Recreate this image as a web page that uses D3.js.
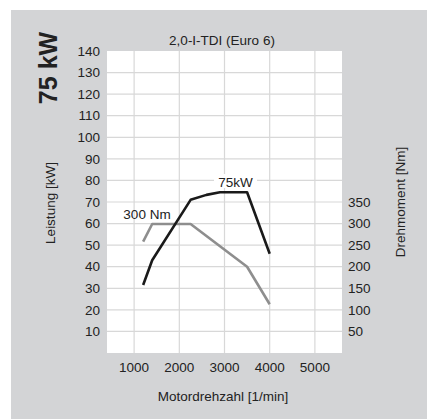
<!DOCTYPE html>
<html>
<head>
<meta charset="utf-8">
<script src="https://cdn.jsdelivr.net/npm/d3@7"></script>
<style>
  html, body { margin: 0; padding: 0; background: #fff; }
  text { font-family: "Liberation Sans", Arial, sans-serif; fill: #222; }
</style>
</head>
<body>
<svg id="chart" width="427" height="419"></svg>
<script>
const powerRpm = [1200, 1400, 2250, 2600, 2900, 3500, 4000];
const powerKw = [31.5, 43, 71, 73.3, 74.5, 74.5, 46];
const torqueRpm = [1200, 1400, 2250, 3500, 4000];
const torqueNm = [258, 299, 299, 200, 113];
const leftTicks = [10, 20, 30, 40, 50, 60, 70, 80, 90, 100, 110, 120, 130, 140];
const rightTicks = [50, 100, 150, 200, 250, 300, 350];
const rpmTicks = [1000, 2000, 3000, 4000, 5000];

const svg = d3.select("#chart");
const plot = { left: 107, right: 342, top: 51, bottom: 353 };

// background panel
svg.append("rect")
  .attr("x", 11).attr("y", 10)
  .attr("width", 416).attr("height", 409)
  .attr("fill", "#d3d4d6");

svg.append("rect")
  .attr("x", plot.left).attr("y", plot.top)
  .attr("width", plot.right - plot.left).attr("height", plot.bottom - plot.top)
  .attr("fill", "#fff");

const x = d3.scaleLinear().domain([400, 5600]).range([plot.left, plot.right]);
const y = d3.scaleLinear().domain([0, 140]).range([plot.bottom, plot.top]);
const yR = d3.scaleLinear().domain([0, 700]).range([plot.bottom, plot.top]);

// grid
leftTicks.filter(d => d < 140).forEach(d => {
  svg.append("line")
    .attr("x1", plot.left).attr("x2", plot.right)
    .attr("y1", y(d)).attr("y2", y(d))
    .attr("stroke", "#d8d8d8").attr("stroke-width", 1.2);
});
rpmTicks.forEach(d => {
  svg.append("line")
    .attr("x1", x(d)).attr("x2", x(d))
    .attr("y1", plot.top).attr("y2", plot.bottom)
    .attr("stroke", "#d8d8d8").attr("stroke-width", 1.2);
});

// left ticks
leftTicks.forEach(d => {
  svg.append("text")
    .attr("x", 100).attr("y", y(d))
    .attr("dy", "0.35em")
    .attr("text-anchor", "end")
    .style("font-size", "13.5px")
    .text(d);
});

// right ticks
rightTicks.forEach(d => {
  svg.append("text")
    .attr("x", 348).attr("y", yR(d))
    .attr("dy", "0.35em")
    .style("font-size", "13.5px")
    .text(d);
});

// x ticks
rpmTicks.forEach(d => {
  svg.append("text")
    .attr("x", x(d)).attr("y", 372)
    .attr("text-anchor", "middle")
    .style("font-size", "13.5px")
    .text(d);
});

// curves
const torqueLine = d3.line().x(d => x(d[0])).y(d => yR(d[1]));
svg.append("path")
  .attr("d", torqueLine(d3.zip(torqueRpm, torqueNm)))
  .attr("fill", "none")
  .attr("stroke", "#8e8e8e")
  .attr("stroke-width", 2.6)
  .attr("stroke-linejoin", "round");

const powerLine = d3.line().x(d => x(d[0])).y(d => y(d[1]));
svg.append("path")
  .attr("d", powerLine(d3.zip(powerRpm, powerKw)))
  .attr("fill", "none")
  .attr("stroke", "#1a1a1a")
  .attr("stroke-width", 2.6)
  .attr("stroke-linejoin", "round");

// curve labels
svg.append("rect")
  .attr("x", 214).attr("y", 174)
  .attr("width", 43).attr("height", 14)
  .attr("fill", "#fff");
svg.append("text")
  .attr("x", 235.5).attr("y", 187)
  .attr("text-anchor", "middle")
  .style("font-size", "13.5px")
  .text("75kW");

svg.append("text")
  .attr("x", 147).attr("y", 219)
  .attr("text-anchor", "middle")
  .style("font-size", "13.5px")
  .text("300 Nm");

// titles
svg.append("text")
  .attr("x", 222).attr("y", 45)
  .attr("text-anchor", "middle")
  .style("font-size", "13.5px")
  .text("2,0-I-TDI (Euro 6)");

svg.append("text")
  .attr("x", 223).attr("y", 401)
  .attr("text-anchor", "middle")
  .style("font-size", "13.5px")
  .text("Motordrehzahl [1/min]");

svg.append("text")
  .attr("transform", "translate(55,203) rotate(-90)")
  .attr("text-anchor", "middle")
  .style("font-size", "13.5px")
  .text("Leistung [kW]");

svg.append("text")
  .attr("transform", "translate(405,202) rotate(-90)")
  .attr("text-anchor", "middle")
  .style("font-size", "13.5px")
  .text("Drehmoment [Nm]");

svg.append("text")
  .attr("transform", "translate(57,68) rotate(-90)")
  .attr("text-anchor", "middle")
  .style("font-size", "25px")
  .style("font-weight", "bold")
  .text("75 kW");
</script>
</body>
</html>
